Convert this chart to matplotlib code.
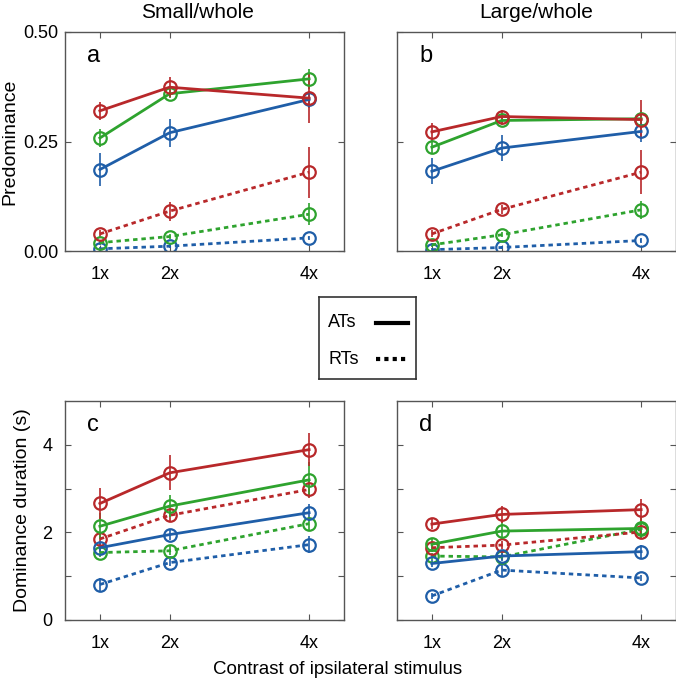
import matplotlib.pyplot as plt
import numpy as np

# contrast of ipsilateral stimulus
contrast = [1, 2, 4]
xtick_labels = ['1x', '2x', '4x']

red = '#b8282a'
green = '#2ea32e'
blue = '#1f5ea8'

# panel a: predominance, small/whole
a_at = {'red': [0.320, 0.374, 0.349], 'green': [0.258, 0.359, 0.393], 'blue': [0.186, 0.270, 0.346]}
a_at_err = {'red': [0.020, 0.023, 0.057], 'green': [0.020, 0.010, 0.023], 'blue': [0.037, 0.032, 0.020]}
a_rt = {'red': [0.039, 0.091, 0.180], 'green': [0.019, 0.033, 0.084], 'blue': [0.005, 0.011, 0.030]}
a_rt_err = {'red': [0.008, 0.022, 0.058], 'green': [0.005, 0.006, 0.025], 'blue': [0.004, 0.004, 0.005]}

# panel b: predominance, large/whole
b_at = {'red': [0.272, 0.307, 0.300], 'green': [0.237, 0.298, 0.302], 'blue': [0.182, 0.235, 0.273]}
b_at_err = {'red': [0.020, 0.015, 0.045], 'green': [0.015, 0.010, 0.020], 'blue': [0.030, 0.030, 0.025]}
b_rt = {'red': [0.039, 0.095, 0.180], 'green': [0.014, 0.037, 0.094], 'blue': [0.003, 0.008, 0.024]}
b_rt_err = {'red': [0.008, 0.010, 0.050], 'green': [0.005, 0.006, 0.020], 'blue': [0.003, 0.004, 0.006]}

# panel c: dominance duration, small/whole
c_at = {'red': [2.66, 3.36, 3.89], 'green': [2.14, 2.60, 3.20], 'blue': [1.65, 1.95, 2.45]}
c_at_err = {'red': [0.35, 0.40, 0.38], 'green': [0.30, 0.25, 0.40], 'blue': [0.10, 0.12, 0.20]}
c_rt = {'red': [1.85, 2.39, 2.98], 'green': [1.54, 1.58, 2.20], 'blue': [0.81, 1.31, 1.72]}
c_rt_err = {'red': [0.15, 0.15, 0.20], 'green': [0.10, 0.10, 0.15], 'blue': [0.15, 0.08, 0.20]}

# panel d: dominance duration, large/whole
d_at = {'red': [2.19, 2.41, 2.52], 'green': [1.73, 2.03, 2.09], 'blue': [1.29, 1.46, 1.56]}
d_at_err = {'red': [0.12, 0.20, 0.25], 'green': [0.12, 0.20, 0.25], 'blue': [0.08, 0.12, 0.15]}
d_rt = {'red': [1.65, 1.71, 2.01], 'green': [1.46, 1.44, 2.07], 'blue': [0.55, 1.14, 0.96]}
d_rt_err = {'red': [0.10, 0.10, 0.15], 'green': [0.08, 0.08, 0.12], 'blue': [0.06, 0.15, 0.06]}

colors = {'red': red, 'green': green, 'blue': blue}
dotted = (0, (1.6, 1.4))

plt.rcParams['font.family'] = ['Liberation Sans', 'DejaVu Sans']

fig = plt.figure(figsize=(6.76, 6.81), dpi=100)
W, H = 676, 681


def make_ax(left, top, right, bottom):
    return fig.add_axes([left / W, 1 - bottom / H, (right - left) / W, (bottom - top) / H])


ax_a = make_ax(65, 32, 344, 251)
ax_b = make_ax(397, 32, 676, 251)
ax_c = make_ax(65, 401, 344, 620)
ax_d = make_ax(397, 401, 676, 620)


def draw(ax, at, at_err, rt, rt_err):
    for key in ['blue', 'green', 'red']:
        col = colors[key]
        ax.errorbar(contrast, rt[key], yerr=rt_err[key], color=col, lw=2, ls=dotted,
                    marker='o', ms=9, mfc='none', mew=1.6, elinewidth=1.2, capsize=0)
    for key in ['blue', 'green', 'red']:
        col = colors[key]
        ax.errorbar(contrast, at[key], yerr=at_err[key], color=col, lw=2, ls='-',
                    marker='o', ms=9, mfc='none', mew=1.6, elinewidth=1.2, capsize=0)
    ax.set_xlim(0.5, 4.5)
    ax.set_xticks(contrast)
    ax.set_xticklabels(xtick_labels)
    ax.tick_params(direction='in', top=True, right=True, labelsize=13, length=4,
                   color='#555555')
    ax.tick_params(axis='x', pad=11)
    for s in ax.spines.values():
        s.set_color('#555555')
        s.set_linewidth(1)


draw(ax_a, a_at, a_at_err, a_rt, a_rt_err)
draw(ax_b, b_at, b_at_err, b_rt, b_rt_err)
draw(ax_c, c_at, c_at_err, c_rt, c_rt_err)
draw(ax_d, d_at, d_at_err, d_rt, d_rt_err)

for ax in [ax_a, ax_b]:
    ax.set_ylim(0, 0.5)
    ax.set_yticks([0, 0.25, 0.5])
ax_a.set_yticklabels(['0.00', '0.25', '0.50'])
ax_b.set_yticklabels([])
ax_a.tick_params(axis='y', pad=5)

for ax in [ax_c, ax_d]:
    ax.set_ylim(0, 5)
    ax.set_yticks([0, 1, 2, 3, 4])
ax_c.set_yticklabels(['0', '', '2', '', '4'])
ax_d.set_yticklabels([])
ax_c.tick_params(axis='y', pad=9)

ax_a.set_ylabel('Predominance', fontsize=14, labelpad=3)
ax_c.set_ylabel('Dominance duration (s)', fontsize=14, labelpad=8)
fig.text(197 / W, 1 - 12 / H, 'Small/whole', fontsize=15, ha='center', va='center')
fig.text(536 / W, 1 - 12 / H, 'Large/whole', fontsize=15, ha='center', va='center')

for ax, lab in zip([ax_a, ax_b, ax_c, ax_d], ['a', 'b', 'c', 'd']):
    ax.text(0.08, 0.89, lab, transform=ax.transAxes, fontsize=17, va='center', ha='left')

fig.text(338 / W, 1 - 670 / H, 'Contrast of ipsilateral stimulus', fontsize=13.5,
         ha='center', va='center')

# legend box
leg_ax = make_ax(319, 297, 416, 379)
leg_ax.set_xlim(0, 97)
leg_ax.set_ylim(82, 0)
leg_ax.set_xticks([])
leg_ax.set_yticks([])
for s in leg_ax.spines.values():
    s.set_linewidth(1.2)
    s.set_color('#333333')
leg_ax.text(9, 26, 'ATs', fontsize=13, va='center')
leg_ax.text(9, 62, 'RTs', fontsize=13, va='center')
leg_ax.plot([57, 89], [26, 26], color='black', lw=3)
leg_ax.plot([57, 89], [62, 62], color='black', lw=3, ls=(0, (1, 1)))

fig.savefig('out.png', dpi=100)
